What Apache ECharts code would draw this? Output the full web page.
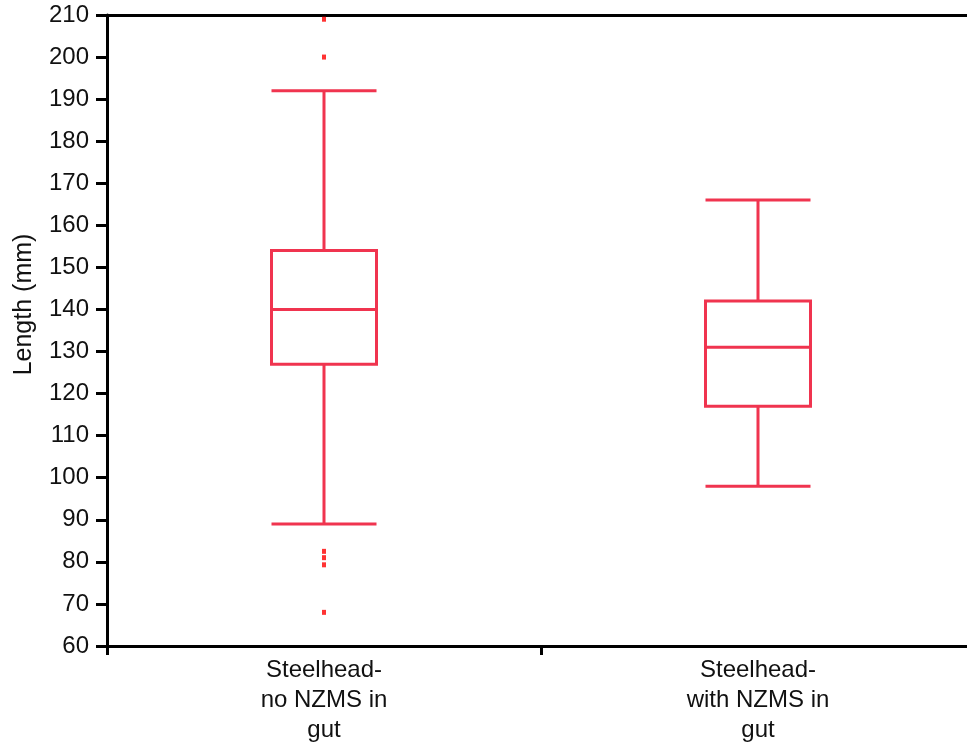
<!DOCTYPE html>
<html><head><meta charset="utf-8">
<script src="https://cdn.jsdelivr.net/npm/echarts@6/dist/echarts.min.js"></script>
<style>html,body{margin:0;padding:0;background:#fff}#c{width:967px;height:744px}</style>
</head><body><div id="c"></div>
<script>
const categories = ['Steelhead-\nno NZMS in\ngut', 'Steelhead-\nwith NZMS in\ngut'];
const boxValues = [
  [89, 127, 140, 154, 192],
  [98, 117, 131, 142, 166]
];
const outliers = [[0, 209], [0, 200], [0, 82.5], [0, 81], [0, 79.3], [0, 68]];
const yTicks = {min: 60, max: 210, interval: 10};

const chart = echarts.init(document.getElementById('c'));
const font = 'Liberation Sans, Arial, sans-serif';
chart.setOption({
  animation: false,
  grid: {left: 107, top: 15, width: 868, bottom: 98, outerBoundsMode: 'none', containLabel: false},
  xAxis: [{
    type: 'category', data: categories, boundaryGap: true,
    axisLine: {lineStyle: {color: '#000', width: 3}},
    axisTick: {show: true, length: 9, interval: 0, lineStyle: {color: '#000', width: 3}},
    axisLabel: {color: '#111', fontFamily: font, fontSize: 24, lineHeight: 30, margin: 9, align: 'center'}
  }, {
    type: 'category', data: categories, position: 'top',
    axisLine: {lineStyle: {color: '#000', width: 3}},
    axisTick: {show: false}, axisLabel: {show: false}
  }],
  yAxis: {
    type: 'value', min: yTicks.min, max: yTicks.max, interval: yTicks.interval,
    name: 'Length (mm)', nameLocation: 'middle', nameGap: 70, nameRotate: 90,
    nameTextStyle: {color: '#111', fontFamily: font, fontSize: 25, padding: [0, 0, 0, 52]},
    axisLine: {show: true, lineStyle: {color: '#000', width: 3}},
    axisTick: {show: true, length: 11, lineStyle: {color: '#000', width: 3}},
    axisLabel: {color: '#111', fontFamily: font, fontSize: 24, margin: 18},
    splitLine: {show: false}
  },
  series: [{
    type: 'boxplot', data: boxValues, boxWidth: [105, 105],
    itemStyle: {color: '#fff', borderColor: '#F0344F', borderWidth: 3},
    emphasis: {disabled: true}
  }, {
    type: 'scatter', data: outliers, symbol: 'rect', symbolSize: [4, 5],
    itemStyle: {color: '#FF0000'}, clip: true
  }]
});
</script></body></html>
